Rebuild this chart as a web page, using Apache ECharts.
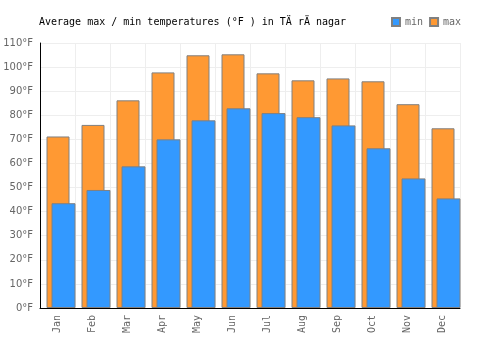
<!DOCTYPE html>
<html>
<head>
<meta charset="utf-8">
<script src="https://cdn.jsdelivr.net/npm/echarts@6/dist/echarts.min.js"></script>
<style>
  html, body { margin: 0; padding: 0; background: #fff; }
  #chart { width: 500px; height: 350px; }
</style>
</head>
<body>
<div id="chart"></div>
<script>
const months = ['Jan', 'Feb', 'Mar', 'Apr', 'May', 'Jun', 'Jul', 'Aug', 'Sep', 'Oct', 'Nov', 'Dec']
const minTemps = [43.5, 49, 58.8, 70, 77.9, 82.9, 80.9, 79.2, 75.8, 66.3, 53.8, 45.5]
const maxTemps = [71.2, 76, 86.2, 97.8, 104.9, 105.3, 97.4, 94.5, 95.3, 94.1, 84.6, 74.6]

const mono = 'DejaVu Sans Mono'
const barBorder = { borderColor: '#808080', borderWidth: 1, borderRadius: 0 }

const chart = echarts.init(document.getElementById('chart'))
chart.setOption({
  animation: false,
  title: {
    text: 'Average max / min temperatures (\u00b0F ) in T\u00c4 r\u00c4 nagar',
    left: 34,
    top: 12,
    textStyle: { fontFamily: mono, fontSize: 10, fontWeight: 'normal', color: '#000' }
  },
  legend: {
    data: ['min', 'max'],
    icon: 'rect',
    left: 386,
    top: 12,
    itemWidth: 8,
    itemHeight: 8,
    itemGap: 6,
    textStyle: { fontFamily: mono, fontSize: 10, color: '#666' }
  },
  grid: { top: 43, right: 40, bottom: 42, left: 40 },
  xAxis: {
    type: 'category',
    data: months,
    axisLine: { lineStyle: { color: '#000' } },
    axisTick: { show: false },
    splitLine: { show: true, lineStyle: { color: '#eee' } },
    axisLabel: { rotate: 90, margin: 7, fontFamily: mono, fontSize: 10, color: '#666' }
  },
  yAxis: {
    type: 'value',
    min: 0,
    max: 110,
    interval: 10,
    axisLine: { show: true, lineStyle: { color: '#000' } },
    axisTick: { show: false },
    splitLine: { lineStyle: { color: '#eee' } },
    axisLabel: { formatter: '{value}\u00b0F', margin: 7, fontFamily: 'DejaVu Sans', fontSize: 10, color: '#666' }
  },
  series: [
    // empty spacer so the pair sits right of centre like the original
    { name: 'spacer', type: 'bar', data: [], barWidth: 32.2, barGap: '-78.26%' },
    {
      name: 'max', type: 'bar', data: maxTemps, barWidth: 23, barGap: '-78.26%',
      itemStyle: Object.assign({ color: '#ff9933' }, barBorder)
    },
    {
      name: 'min', type: 'bar', data: minTemps, barWidth: 24, barGap: '-78.26%',
      itemStyle: Object.assign({ color: '#3399ff' }, barBorder)
    }
  ]
})
</script>
</body>
</html>
